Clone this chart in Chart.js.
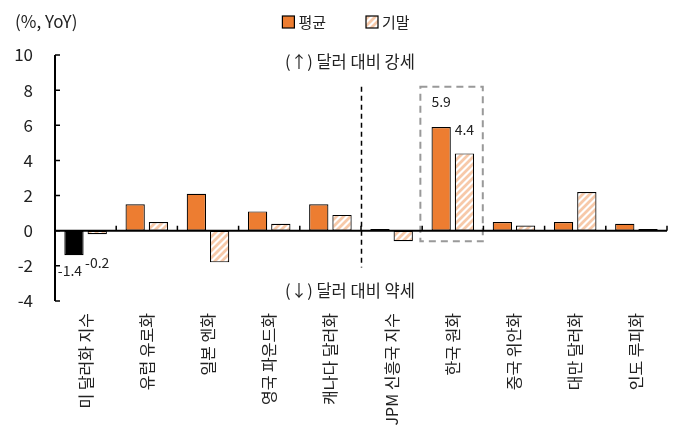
<!DOCTYPE html>
<html>
<head>
<meta charset="utf-8">
<script src="https://cdn.jsdelivr.net/npm/chart.js@4.4.1/dist/chart.umd.min.js"></script>
<style>
html, body { margin: 0; padding: 0; background: #fff; }
#wrap { width: 678px; height: 447px; }
</style>
</head>
<body>
<div id="wrap"><canvas id="fx"></canvas></div>
<script>
// ---- data ----
var labels = ["미 달러화 지수", "유럽 유로화", "일본 엔화", "영국 파운드화", "캐나다 달러화",
              "JPM 신흥국 지수", "한국 원화", "중국 위안화", "대만 달러화", "인도 루피화"];
var avgValues = [-1.4, 1.5, 2.1, 1.1, 1.5, 0.1, 5.9, 0.5, 0.5, 0.4];
var endValues = [-0.2, 0.5, -1.8, 0.4, 0.9, -0.6, 4.4, 0.3, 2.2, 0.1];
var seriesNames = ["평균", "기말"];
var yTicks = [-4, -2, 0, 2, 4, 6, 8, 10];
var labelled = [0, 6];   // categories with value labels

var FONT = "'Noto Sans CJK KR', 'Noto Sans', sans-serif";
var ORANGE = "#ED7D31";

// hatch for 기말
function makeHatch() {
    var p = document.createElement("canvas");
    p.width = 7; p.height = 7;
    var g = p.getContext("2d");
    g.fillStyle = "#fff";
    g.fillRect(0, 0, 7, 7);
    g.strokeStyle = "#F7C9A9";
    g.lineWidth = 2.8;
    g.beginPath();
    g.moveTo(-1, 8); g.lineTo(8, -1);
    g.moveTo(-1, 1); g.lineTo(1, -1);
    g.moveTo(6, 8); g.lineTo(8, 6);
    g.stroke();
    return g.createPattern(p, "repeat");
}
var hatch = makeHatch();

var avgColors = avgValues.map(function (v, i) { return i === 0 ? "#000" : ORANGE; });

//=============================================== DECORATION ========================================
var decor = {
    id: "decor",
    afterDatasetsDraw: function (chart) {
        var c = chart.ctx, xs = chart.scales.x, ys = chart.scales.y, a = chart.chartArea;
        var y0 = ys.getPixelForValue(0);
        c.save();

        // dashed divider & box
        c.strokeStyle = "#000";
        c.lineWidth = 1.5;
        c.setLineDash([5, 4]);
        c.beginPath();
        var dx = Math.round(xs.getPixelForValue(4.5)) + 0.5;
        c.moveTo(dx, ys.getPixelForValue(8.2));
        c.lineTo(dx, ys.getPixelForValue(-2.1));
        c.stroke();

        c.strokeStyle = "#999";
        c.lineWidth = 2;
        c.setLineDash([7, 5]);
        var bx1 = xs.getPixelForValue(5.47), bx2 = xs.getPixelForValue(6.49);
        var by1 = ys.getPixelForValue(8.2), by2 = ys.getPixelForValue(-0.6);
        c.strokeRect(bx1, by1, bx2 - bx1, by2 - by1);
        c.setLineDash([]);

        // axes
        c.strokeStyle = "#000";
        c.lineWidth = 2;
        c.beginPath();
        c.moveTo(a.left, a.top); c.lineTo(a.left, a.bottom);
        c.moveTo(a.left, y0); c.lineTo(a.right, y0);
        c.stroke();
        c.lineWidth = 1.5;
        c.beginPath();
        yTicks.forEach(function (v) {
            var p = ys.getPixelForValue(v);
            c.moveTo(a.left, p); c.lineTo(a.left + 5, p);
        });
        for (var i = 0; i <= labels.length; i++) {
            var px = xs.getPixelForValue(i - 0.5);
            c.moveTo(px, y0); c.lineTo(px, y0 - 5);
        }
        c.stroke();

        // value labels
        c.fillStyle = "#222";
        c.font = "14px " + FONT;
        c.textAlign = "center";
        c.textBaseline = "middle";
        labelled.forEach(function (i) {
            var b0 = chart.getDatasetMeta(0).data[i], b1 = chart.getDatasetMeta(1).data[i];
            if (avgValues[i] >= 0) {
                c.fillText(avgValues[i].toFixed(1), b0.x, b0.y - 25);
                c.fillText(endValues[i].toFixed(1), b1.x, b1.y - 24);
            } else {
                c.fillText(avgValues[i].toFixed(1), b0.x - 4, b0.y + 15);
                c.fillText(endValues[i].toFixed(1), b1.x, ys.getPixelForValue(-1.8));
            }
        });

        // direction notes
        c.font = "16.5px " + FONT;
        c.fillText("(↑) 달러 대비 강세", xs.getPixelForValue(4.32), ys.getPixelForValue(9.6));
        c.fillText("(↓) 달러 대비 약세", xs.getPixelForValue(4.32), ys.getPixelForValue(-3.4));

        // unit
        c.textAlign = "left";
        c.font = "17px " + FONT;
        c.fillText("(%, YoY)", 15, 22);

        // legend
        c.font = "15px " + FONT;
        var items = [{ t: seriesNames[0], f: ORANGE }, { t: seriesNames[1], f: hatch }];
        var gap = 40, box = 12;
        var total = 0;
        items.forEach(function (it, k) { total += box + 4 + c.measureText(it.t).width + (k ? 0 : gap); });
        var lx = 346 - total / 2;
        items.forEach(function (it) {
            c.fillStyle = it.f;
            c.fillRect(lx, 16, box, box);
            c.strokeStyle = "#000"; c.lineWidth = 1.2;
            c.strokeRect(lx, 16, box, box);
            c.fillStyle = "#222";
            c.fillText(it.t, lx + box + 4, 22);
            lx += box + 4 + c.measureText(it.t).width + gap;
        });
        c.restore();
    }
};

//=============================================== CHART ========================================
var ctx1 = document.getElementById("fx");
var fx = new Chart(ctx1, {
    type: "bar",
    data: {
        labels: labels,
        datasets: [{
            label: seriesNames[0],
            data: avgValues,
            backgroundColor: avgColors,
            borderColor: "#000",
            borderWidth: 1.2,
            borderSkipped: false,
            categoryPercentage: 0.76,
            barPercentage: 0.83
        }, {
            label: seriesNames[1],
            data: endValues,
            backgroundColor: hatch,
            borderColor: "#000",
            borderWidth: 1.2,
            borderSkipped: false,
            categoryPercentage: 0.76,
            barPercentage: 0.83
        }]
    },
    options: {
        responsive: true,
        maintainAspectRatio: false,
        animation: false,
        layout: { padding: { left: 0, right: 11, top: 55, bottom: 0 } },
        plugins: { legend: { display: false }, tooltip: { enabled: false } },
        scales: {
            x: {
                grid: { display: false, drawTicks: false },
                border: { display: false },
                ticks: {
                    autoSkip: false, minRotation: 90, maxRotation: 90, padding: 12,
                    color: "#222", font: { family: FONT, size: 16 }
                },
                afterFit: function (s) { s.height = 146; }
            },
            y: {
                min: -4, max: 10,
                grid: { display: false, drawTicks: false },
                border: { display: false },
                ticks: {
                    stepSize: 2, padding: 22,
                    color: "#222", font: { family: FONT, size: 17 }
                },
                afterFit: function (s) { s.width = 55; }
            }
        }
    },
    plugins: [decor]
});
</script>
</body>
</html>
